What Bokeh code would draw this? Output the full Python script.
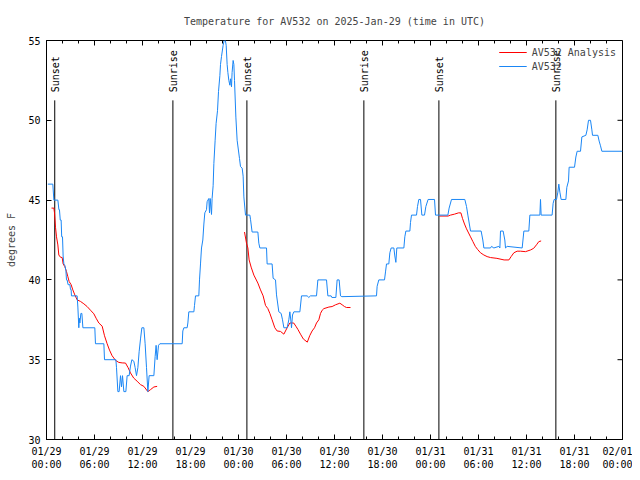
import math
from bokeh.plotting import figure
from bokeh.models import Range1d, FixedTicker, Legend, LegendItem
from bokeh.core.properties import value
from bokeh.embed import file_html
from bokeh.resources import INLINE

# ---- data: hours since 2025-01-29 00:00 UTC ----
obs_hours = [0.17, 0.79, 0.92, 1.42, 1.55, 1.62, 1.72, 1.83, 1.9, 2.0, 2.08, 2.17, 2.3, 2.42, 2.5, 2.58,
             2.7, 2.92, 3.0, 3.08, 3.12, 3.83, 3.92, 4.04, 4.1, 4.17, 4.3, 4.42, 4.55, 6.04, 6.12, 7.17,
             7.25, 8.67, 8.75, 8.92, 9.08, 9.25, 9.375, 9.5, 9.67, 9.92, 10.08, 10.33, 10.5, 10.67, 10.92,
             11.08, 11.25, 11.42, 11.58, 11.75, 11.92, 12.17, 12.33, 12.5, 12.67, 12.83, 13.42, 13.58,
             13.7, 13.83, 14.0, 14.17, 16.96, 17.04, 17.17, 17.58, 17.67, 17.79, 18.42, 18.5, 18.625,
             19.04, 19.125, 19.25, 19.375, 19.54, 19.67, 19.79, 20.0, 20.08, 20.29, 20.375, 20.46,
             20.625, 20.7, 20.83, 20.92, 21.08, 21.2, 21.375, 21.5, 21.67, 21.75, 21.875, 22.08, 22.29,
             22.46, 22.58, 22.67, 22.79, 22.92, 23.0, 23.125, 23.2, 23.33, 23.42, 23.5, 23.67, 23.83,
             24.125, 24.25, 24.46, 24.58, 24.67, 24.875, 25.42, 25.5, 25.7, 26.42, 26.54, 26.67, 27.5,
             27.58, 28.2, 28.33, 28.625, 28.75, 29.04, 29.33, 29.5, 29.67, 30.08, 30.29, 30.42, 30.58,
             30.625, 30.75, 30.92, 31.67, 31.875, 32.58, 32.79, 33.0, 33.75, 33.92, 35.0, 35.17, 35.58,
             35.67, 36.17, 36.33, 36.58, 36.75, 36.92, 41.25, 41.33, 41.54, 42.25, 42.375, 42.5, 42.79,
             42.92, 43.08, 43.42, 43.54, 43.67, 43.79, 44.67, 44.79, 44.92, 45.42, 45.5, 45.625, 46.25,
             46.375, 46.54, 46.75, 46.92, 47.25, 47.42, 47.7, 48.5, 48.625, 50.17, 50.33, 50.625, 52.29,
             52.5, 52.67, 53.0, 54.33, 54.54, 54.67, 55.5, 55.625, 55.92, 56.54, 56.67, 56.75, 57.08,
             57.29, 57.375, 57.58, 59.46, 59.67, 60.29, 60.42, 61.67, 61.75, 61.83, 63.2, 63.33, 63.46,
             63.75, 63.92, 64.04, 64.17, 64.33, 64.92, 65.04, 65.25, 65.33, 66.0, 66.17, 66.33, 66.75,
             66.92, 67.42, 67.58, 67.75, 68.0, 68.17, 68.25, 68.92, 69.08, 69.25, 69.42, 72.0]
obs_temps = [46.0, 46.0, 45.0, 45.0, 44.4, 44.4, 43.75, 43.75, 42.7, 42.7, 41.5, 41.0, 40.9, 40.6, 40.0, 40.0,
             39.7, 39.7, 39.4, 39.4, 39.0, 39.0, 38.3, 37.0, 37.6, 37.3, 37.9, 37.9, 37.0, 37.0, 36.0, 36.0,
             35.0, 35.0, 34.5, 33.0, 33.0, 34.0, 33.3, 34.0, 33.0, 33.0, 34.0, 34.0, 34.6, 35.0, 34.9,
             34.5, 34.0, 34.5, 35.5, 36.3, 37.0, 37.0, 36.0, 34.5, 33.0, 34.0, 34.0, 35.2,
             35.9, 35.0, 35.9, 36.0, 36.0, 36.8, 37.0, 37.0, 37.3, 38.0, 38.0, 38.4, 39.0,
             39.0, 40.0, 41.0, 42.0, 42.5, 43.5, 44.2, 44.4, 44.9, 45.1, 44.2, 45.1,
             44.1, 45.1, 45.9, 47.3, 48.75, 49.8, 50.6, 51.8, 52.8, 53.5, 54.0, 54.7, 55.2,
             54.7, 53.5, 53.0, 52.5, 52.2, 52.6, 52.1, 53.0, 53.75, 53.5, 52.5, 50.2, 48.75,
             47.6, 47.1, 47.0, 46.5, 45.2, 44.06, 44.06, 43.8, 43.0, 43.0, 42.3, 42.0, 42.0,
             41.0, 41.0, 40.1, 40.0, 39.06, 38.0, 37.9, 37.5, 37.0, 37.0, 37.5, 38.0, 37.3,
             37.0, 37.8, 38.0, 38.0, 39.0, 39.0, 38.9, 39.0, 39.0, 40.0, 40.0, 39.0, 39.0,
             38.9, 38.9, 40.0, 40.0, 39.0, 38.95, 39.0, 39.6, 40.0, 40.0, 40.5, 41.0, 41.0,
             41.7, 42.0, 42.0, 41.5, 41.1, 42.0, 42.0, 42.7, 43.06, 43.06, 43.6, 44.06, 44.06,
             44.6, 45.04, 45.04, 44.06, 44.06, 44.6, 45.04, 45.04, 44.06, 44.06, 44.5, 45.04, 45.04,
             44.6, 44.06, 43.06, 43.06, 42.5, 42.0, 42.0, 42.1, 42.0, 42.1, 42.0, 43.06, 43.06,
             42.5, 42.0, 42.1, 42.0, 43.06, 43.06, 44.06, 44.06, 45.04, 44.06, 44.06, 44.8, 45.04,
             45.04, 45.5, 46.0, 45.5, 45.04, 45.04, 45.8, 46.2, 47.06, 47.06, 47.7, 48.06, 48.06,
             48.96, 49.06, 49.4, 50.0, 50.0, 49.4, 49.06, 49.06, 48.7, 48.4, 48.06, 48.06]

nan = float("nan")
ana_hours = [0.625, 0.92, 1.0, 1.125, 1.25, 1.42, 1.54, 1.75, 1.96, 2.08, 2.29, 2.5, 2.67, 2.83, 3.08,
             3.29, 3.54, 3.83, 4.25, 4.67, 5.08, 5.5, 5.92, 6.2, 6.54, 6.96, 7.25, 7.58, 7.875, 8.2,
             8.625, 9.04, 9.46, 9.875, 10.2, 10.5, 10.9, 11.33, 11.75, 12.17, 12.67, 13.0, 13.42, 13.83,
             nan,
             24.75, 25.0, 25.17, 25.33, 25.58, 25.92, 26.42, 26.75, 27.08, 27.375, 27.67, 27.92, 28.2,
             28.54, 28.83, 29.25, 29.67, 30.08, 30.42, 30.9, 31.17, 31.42, 31.75, 32.1, 32.6, 32.9,
             33.2, 33.5, 33.75, 34.04, 34.25, 34.46, 34.67, 35.3, 35.7, 36.125, 36.67, 36.96, 37.25,
             37.5, 38.0,
             nan,
             49.1, 50.2, 50.5, 51.0, 51.5, 51.8, 52.0, 52.25, 52.5, 52.7, 53.0, 53.3, 53.6, 53.9,
             54.25, 54.67, 55.08, 55.5, 56.3, 57.2, 57.8, 58.08, 58.42, 58.83, 59.25, 59.875, 60.5,
             60.9, 61.25, 61.54, 61.83]
ana_temps = [44.5, 44.5, 44.2, 43.3, 42.7, 42.19, 41.56, 41.42, 41.4, 41.0, 40.83, 40.52, 40.2, 39.9, 39.7,
             39.375, 39.06, 38.75, 38.65, 38.5, 38.33, 38.1, 37.875, 37.6, 37.3, 37.1, 36.5, 36.0, 35.6,
             35.25, 34.96, 34.83, 34.8, 34.79, 34.5, 34.17, 33.85, 33.65, 33.44, 33.33, 33.0, 33.125,
             33.29, 33.33,
             nan,
             43.0, 42.3, 42.0, 41.25, 40.8, 40.3, 39.8, 39.375, 39.0, 38.4, 38.2, 37.9, 37.5,
             37.0, 36.8, 36.77, 36.6, 37.0, 37.3, 37.3, 37.1, 36.9, 36.6, 36.3, 36.1, 36.5,
             36.8, 37.0, 37.3, 37.5, 37.9, 38.1, 38.2, 38.3, 38.33, 38.44, 38.54, 38.44, 38.33,
             38.27, 38.27,
             nan,
             44.0, 44.0, 44.06, 44.12, 44.2, 44.2, 43.85, 43.5, 43.2, 43.0, 42.7, 42.4, 42.1, 41.9,
             41.7, 41.56, 41.46, 41.4, 41.35, 41.25, 41.25, 41.46, 41.7, 41.8, 41.8, 41.77, 41.875,
             41.98, 42.2, 42.4, 42.44]

sun_hours = [1.03, 15.8, 25.05, 39.67, 49.05, 63.67]
sun_labels = ["Sunset", "Sunrise", "Sunset", "Sunrise", "Sunset", "Sunrise"]

x_ticks = [0, 6, 12, 18, 24, 30, 36, 42, 48, 54, 60, 66, 72]
x_tick_labels = ["01/29\n00:00", "01/29\n06:00", "01/29\n12:00", "01/29\n18:00",
                 "01/30\n00:00", "01/30\n06:00", "01/30\n12:00", "01/30\n18:00",
                 "01/31\n00:00", "01/31\n06:00", "01/31\n12:00", "01/31\n18:00",
                 "02/01\n00:00"]
x_minor = [h for h in range(0, 73, 2)]
y_ticks = [30, 35, 40, 45, 50, 55]

# ---- style ----
FONT = "DejaVu Sans Mono"
FS = "10px"
RED = "#ff0000"
BLUE = "#1a86f5"
X0, X1, Y0, Y1 = 0, 72, 30, 55
FRAME_W, FRAME_H = 576, 400
marker_top = 51.25
label_base = 51.75
tick_px, minor_px = 5, 3
x_per_px = (X1 - X0) / FRAME_W
y_per_px = (Y1 - Y0) / FRAME_H

p = figure(width=632, height=472, output_backend="svg", toolbar_location=None,
           x_range=Range1d(X0, X1), y_range=Range1d(Y0, Y1),
           title="Temperature for AV532 on 2025-Jan-29 (time in UTC)")
p.min_border_left = 46
p.min_border_right = 10
p.min_border_top = 40
p.min_border_bottom = 32
p.background_fill_color = "white"
p.border_fill_color = "white"
p.outline_line_color = "black"
p.outline_line_width = 1
p.xgrid.visible = False
p.ygrid.visible = False

p.title.text_font = FONT
p.title.text_font_size = FS
p.title.text_font_style = "normal"
p.title.align = "center"
p.title.vertical_align = "top"
p.title.standoff = 24

xt = FixedTicker(ticks=x_ticks, minor_ticks=x_minor)
yt = FixedTicker(ticks=y_ticks, minor_ticks=[])

for ax, ticker in ((p.xaxis[0], xt), (p.yaxis[0], yt)):
    ax.ticker = ticker
    ax.axis_line_color = "black"
    ax.major_tick_in = tick_px
    ax.major_tick_out = 0
    ax.minor_tick_in = minor_px
    ax.minor_tick_out = 0
    ax.major_tick_line_color = "black"
    ax.minor_tick_line_color = "black"
    ax.major_label_text_font = FONT
    ax.major_label_text_font_size = FS
    ax.major_label_text_color = "black"
    ax.major_label_standoff = 6
    ax.axis_label_text_font = FONT
    ax.axis_label_text_font_size = FS
    ax.axis_label_text_font_style = "normal"

p.xaxis[0].major_label_overrides = {t: l for t, l in zip(x_ticks, x_tick_labels)}
p.yaxis[0].axis_label = "degrees F"
p.yaxis[0].axis_label_standoff = 8

# mirrored ticks on the top and right edges of the frame (gnuplot style)
p.segment(x0=x_ticks, y0=[Y1] * len(x_ticks), x1=x_ticks,
          y1=[Y1 - tick_px * y_per_px] * len(x_ticks), line_color="black", line_width=1)
p.segment(x0=x_minor, y0=[Y1] * len(x_minor), x1=x_minor,
          y1=[Y1 - minor_px * y_per_px] * len(x_minor), line_color="black", line_width=1)
p.segment(x0=[X1] * len(y_ticks), y0=y_ticks, x1=[X1 - tick_px * x_per_px] * len(y_ticks),
          y1=y_ticks, line_color="black", line_width=1)

# sunrise / sunset markers
p.segment(x0=sun_hours, y0=[Y0] * len(sun_hours), x1=sun_hours, y1=[marker_top] * len(sun_hours),
          line_color="black", line_width=1)
p.text(x=sun_hours, y=[label_base] * len(sun_hours), text=sun_labels, angle=math.pi / 2,
       text_align="left", text_baseline="middle", x_offset=1,
       text_font=value(FONT), text_font_size=FS, text_color="black")

r_ana = p.line(ana_hours, ana_temps, line_color=RED, line_width=1)
r_obs = p.line(obs_hours, obs_temps, line_color=BLUE, line_width=1)

legend = Legend(items=[LegendItem(label="AV532 Analysis", renderers=[r_ana]),
                       LegendItem(label="AV532", renderers=[r_obs])],
                location="top_right")
legend.label_text_font = FONT
legend.label_text_font_size = FS
legend.border_line_alpha = 0
legend.background_fill_alpha = 0
legend.glyph_width = 28
legend.glyph_height = 12
legend.label_height = 12
legend.spacing = 2
legend.padding = 2
legend.margin = 4
p.add_layout(legend)

open("out.html", "w").write(file_html(p, INLINE))
